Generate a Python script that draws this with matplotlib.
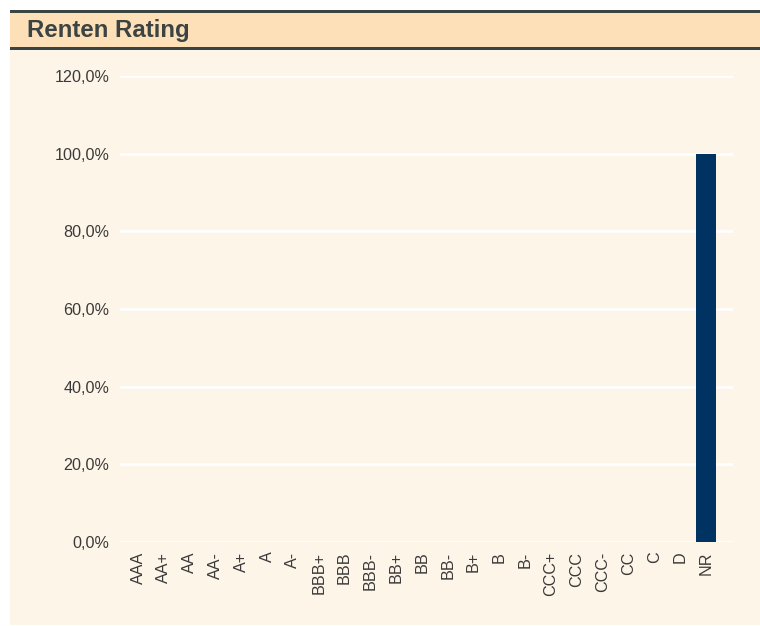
import matplotlib.pyplot as plt
from matplotlib.patches import Rectangle
from matplotlib.ticker import FuncFormatter

# rating categories and share of the fund (in %)
ratings = ["AAA", "AA+", "AA", "AA-", "A+", "A", "A-", "BBB+", "BBB", "BBB-",
           "BB+", "BB", "BB-", "B+", "B", "B-", "CCC+", "CCC", "CCC-", "CC",
           "C", "D", "NR"]
shares = [0, 0, 0, 0, 0, 0, 0, 0, 0, 0,
          0, 0, 0, 0, 0, 0, 0, 0, 0, 0,
          0, 0, 100.0]

W, H = 760, 626
panel_col = "#fef5e9"
head_col = "#fee0b8"
line_col = "#3c4343"
text_col = "#3a3a3a"
bar_col = "#003262"

plt.rcParams['font.family'] = ['Liberation Sans', 'DejaVu Sans']

fig = plt.figure(figsize=(W / 100, H / 100), dpi=100, facecolor="white")

def px(x0, y0, x1, y1, col):
    # rectangle given in pixel coords (top-left origin)
    fig.patches.append(Rectangle((x0 / W, 1 - y1 / H), (x1 - x0) / W, (y1 - y0) / H,
                                 transform=fig.transFigure, facecolor=col,
                                 edgecolor="none", zorder=-5))

px(10, 10, 760, 625, panel_col)
px(10, 12, 760, 48, head_col)
px(10, 10, 760, 12.5, line_col)
px(10, 47.5, 760, 50, line_col)

fig.text(27 / W, 1 - 31 / H, "Renten Rating", fontsize=17.3, fontweight="bold",
         color=line_col, va="center", ha="left")

ax = fig.add_axes([120 / W, 1 - 542 / H, (733 - 120) / W, (542 - 76) / H])
ax.set_zorder(2)
ax.patch.set_alpha(0)

x = list(range(len(ratings)))
ax.bar(x, shares, width=0.78, color=bar_col, zorder=3)

ax.set_ylim(0, 120)
ax.set_yticks([0, 20, 40, 60, 80, 100, 120])
ax.yaxis.set_major_formatter(FuncFormatter(lambda v, p: f"{v:.1f}%".replace(".", ",")))
ax.set_xlim(-0.7, len(ratings) - 1 + 1.05)
ax.set_xticks(x)
ax.set_xticklabels(ratings, rotation=90, va="top", ha="center")

ax.grid(axis="y", color="white", linewidth=2, zorder=0)
ax.set_axisbelow(True)
for s in ax.spines.values():
    s.set_visible(False)
ax.tick_params(axis="both", length=0, colors=text_col, labelsize=11.6)
ax.tick_params(axis="y", pad=7.5)
ax.tick_params(axis="x", pad=7)

fig.savefig("out.png", dpi=100, facecolor="white")
